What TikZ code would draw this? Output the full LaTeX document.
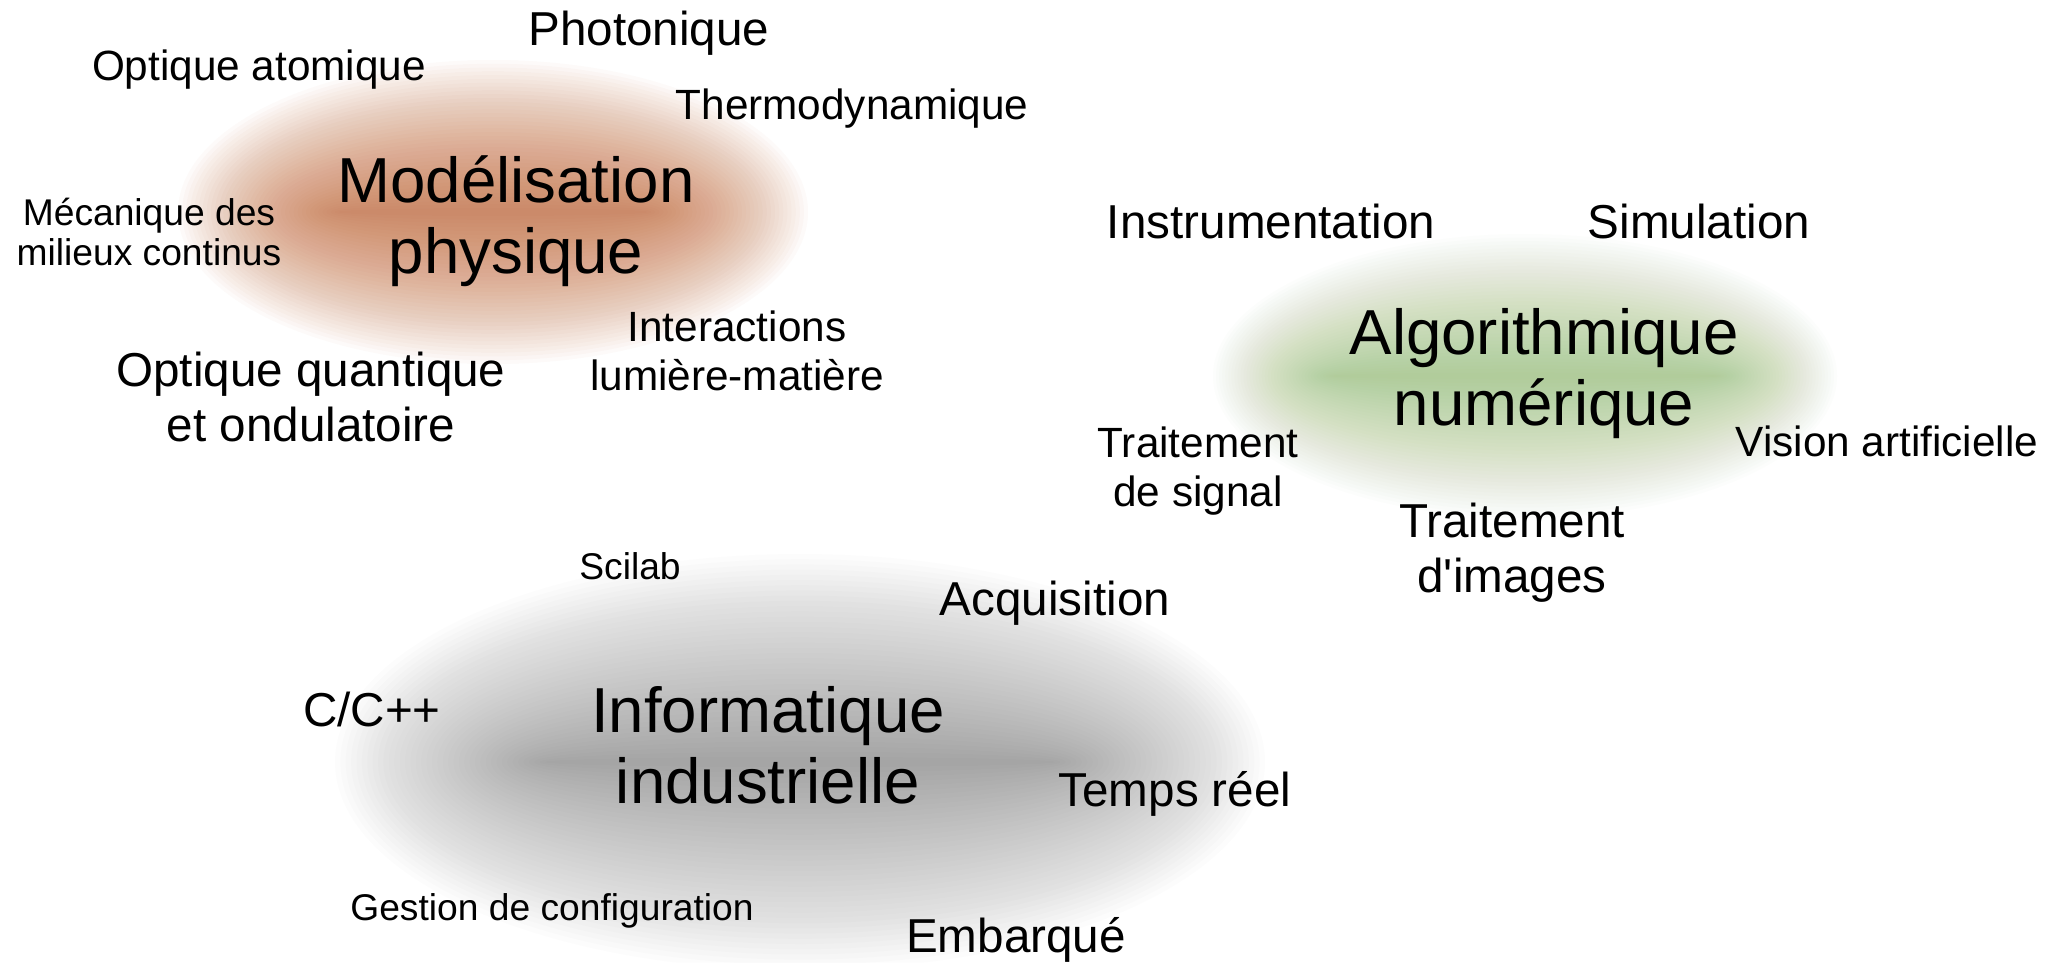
\documentclass[tikz,border=0pt]{standalone}
\usepackage{fontspec}
\setmainfont{Liberation Sans}
\definecolor{orb}{RGB}{195,100,50}
\definecolor{grb}{RGB}{120,170,70}
\definecolor{gyb}{RGB}{100,100,100}
\newcommand\blobx[7]{%
  \foreach \i in {1,...,40}{%
    \pgfmathsetmacro\ra{#5+(#3-#5)*\i/40}%
    \pgfmathsetmacro\rb{#4*\i/40}%
    \fill[#6, fill opacity=#7] (#1,#2) ellipse ({\ra} and {\rb});
  }%
}
\tikzset{
  lbl/.style={anchor=center, align=center, inner sep=0pt, text=black},
  big/.style={lbl, font=\fontsize{63.6}{71}\selectfont},
  med/.style={lbl, font=\fontsize{47.6}{55}\selectfont},
  sml/.style={lbl, font=\fontsize{42.3}{49}\selectfont},
  xsml/.style={lbl, font=\fontsize{37.2}{40.5}\selectfont}
}
\begin{document}
\begin{tikzpicture}[x=1pt, y=-1pt]
\fill[white] (0,0) rectangle (2048,962);
\useasboundingbox (0,0) rectangle (2048,962);
% blobs
\blobx{493}{212}{315}{152}{150}{orb}{0.0259}
\blobx{1525}{376}{312}{142}{190}{grb}{0.0172}
\blobx{800}{762}{465}{208}{250}{gyb}{0.0148}
% texts
\node[sml]  (optat)  at (259,70)   {Optique atomique};
\node[med]  (phot)   at (649,33)   {Photonique};
\node[sml]  (thermo) at (852,109)  {Thermodynamique};
\node[big]  (model)  at (516,221)  {Modélisation\\physique};
\node[xsml] (meca)   at (149,232)  {Mécanique des\\milieux continus};
\node[sml]  (inter)  at (737,351)  {Interactions\\lumière-matière};
\node[med]  (optq)   at (311,397)  {Optique quantique\\et ondulatoire};
\node[med]  (instr)  at (1271,221) {Instrumentation};
\node[med]  (simu)   at (1699,221) {Simulation};
\node[big]  (algo)   at (1544,374) {Algorithmique\\numérique};
\node[sml]  (tsig)   at (1198,471) {Traitement\\de signal};
\node[sml]  (vision) at (1887,441) {Vision artificielle};
\node[med]  (timg)   at (1512,553) {Traitement\\d\textquotesingle images};
\node[xsml] (scilab) at (630,566)  {Scilab};
\node[med]  (acq)    at (1055,603) {Acquisition};
\node[med]  (cpp)    at (372,709)  {C/C++};
\node[big]  (info)   at (768,745)  {Informatique\\industrielle};
\node[med]  (temps)  at (1175,794) {Temps réel};
\node[xsml] (gest)   at (552,911)  {Gestion de configuration};
\node[med]  (emb)    at (1016,940) {Embarqué};
\end{tikzpicture}
\end{document}
